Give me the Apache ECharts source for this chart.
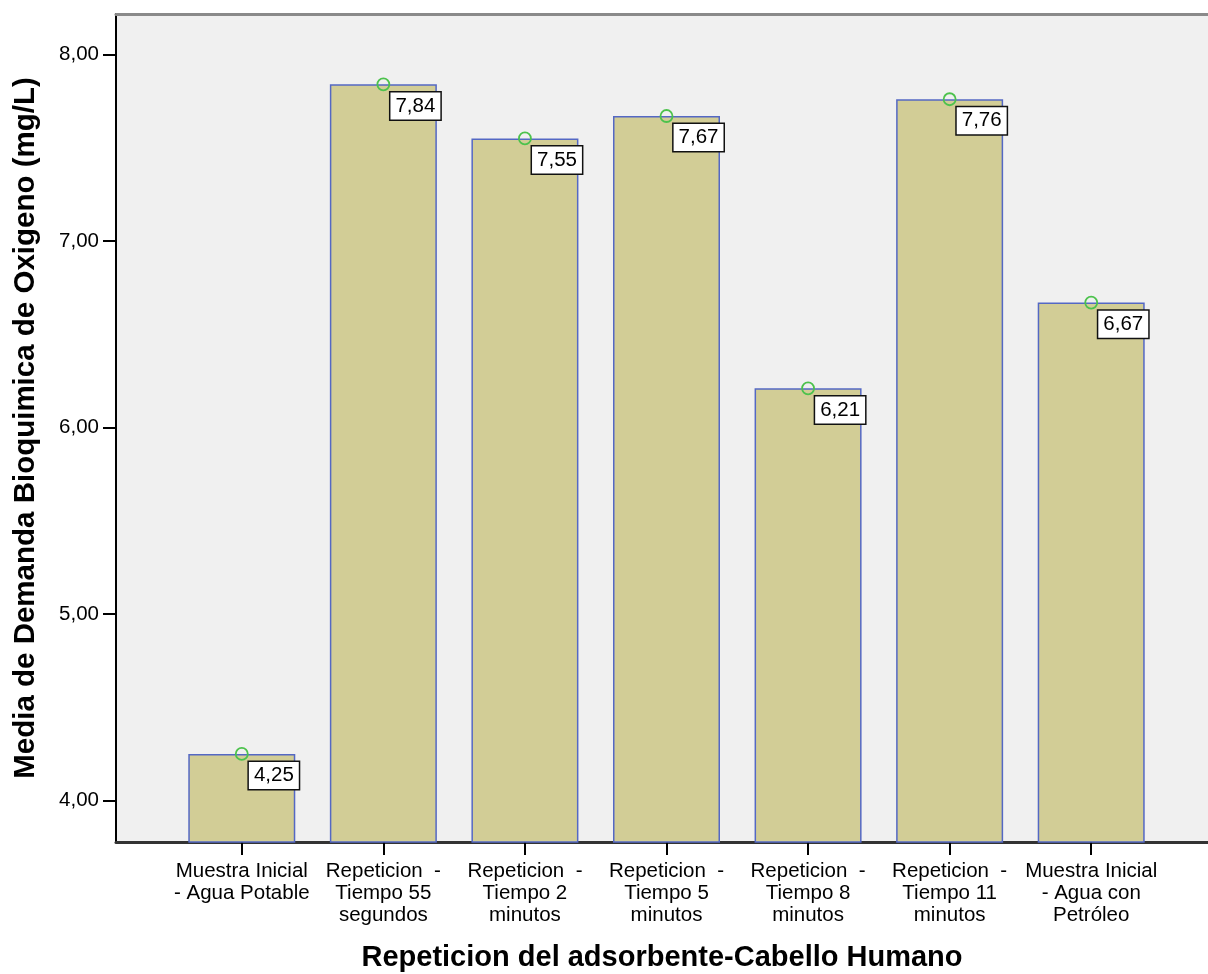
<!DOCTYPE html>
<html>
<head>
<meta charset="utf-8">
<script src="https://cdn.jsdelivr.net/npm/echarts@6/dist/echarts.min.js"></script>
<style>
  html, body { margin: 0; padding: 0; background: #fff; }
  #chart { width: 1208px; height: 974px; }
</style>
</head>
<body>
<div id="chart"></div>
<script>
// Mean BOD per sample / repetition
const categories = [
  'Muestra Inicial\n- Agua Potable',
  'Repeticion  -\nTiempo 55\nsegundos',
  'Repeticion  -\nTiempo 2\nminutos',
  'Repeticion  -\nTiempo 5\nminutos',
  'Repeticion  -\nTiempo 8\nminutos',
  'Repeticion  -\nTiempo 11\nminutos',
  'Muestra Inicial\n- Agua con\nPetróleo'
];
const meanValues = [4.25, 7.84, 7.55, 7.67, 6.21, 7.76, 6.67];
const yTicks = [4, 5, 6, 7, 8];
const yMin = 3.7775;
const yMax = 8.217;

const fmt = v => Number(v).toFixed(2).replace('.', ',');
const FONT = 'Liberation Sans, Arial, sans-serif';

const chart = echarts.init(document.getElementById('chart'), null, { renderer: 'canvas' });

chart.setOption({
  animation: false,
  backgroundColor: '#ffffff',
  grid: [
    // frame of the plot area
    { left: 116, right: 0, top: 14, bottom: 132, show: true, backgroundColor: '#f0f0f0', borderWidth: 0, outerBoundsMode: 'none', containLabel: false },
    // category band holding the bars
    { left: 171, right: 46, top: 14, bottom: 132, outerBoundsMode: 'none', containLabel: false }
  ],
  xAxis: [
    {
      gridIndex: 0, type: 'category', data: [''], position: 'bottom',
      axisLine: { show: true, lineStyle: { color: '#333', width: 3 } },
      axisTick: { show: false }, axisLabel: { show: false }, splitLine: { show: false },
      name: 'Repeticion del adsorbente-Cabello Humano',
      nameLocation: 'middle', nameGap: 116,
      nameTextStyle: { fontFamily: FONT, fontWeight: 'bold', fontSize: 29, color: '#000', verticalAlign: 'middle' }
    },
    {
      gridIndex: 0, type: 'category', data: [''], position: 'top',
      axisLine: { show: true, lineStyle: { color: '#8a8a8a', width: 3 } },
      axisTick: { show: false }, axisLabel: { show: false }, splitLine: { show: false }
    },
    {
      gridIndex: 1, type: 'category', data: categories, position: 'bottom',
      axisLine: { show: false },
      axisTick: { show: true, alignWithLabel: true, length: 13, lineStyle: { color: '#000', width: 2 } },
      axisLabel: {
        interval: 0, margin: 18, fontFamily: FONT, fontSize: 20.5, lineHeight: 22, color: '#000', align: 'center'
      },
      splitLine: { show: false }
    }
  ],
  yAxis: [
    {
      gridIndex: 0, type: 'value', min: yMin, max: yMax,
      axisLine: { show: true, lineStyle: { color: '#000', width: 2 } },
      axisTick: { show: true, length: 13, customValues: yTicks, lineStyle: { color: '#000', width: 2 } },
      axisLabel: { customValues: yTicks, formatter: fmt, margin: 17, fontFamily: FONT, fontSize: 20.5, color: '#000' },
      splitLine: { show: false },
      name: 'Media de Demanda Bioquimica de Oxigeno (mg/L)',
      nameLocation: 'middle', nameGap: 90, nameRotate: 90,
      nameTextStyle: { fontFamily: FONT, fontWeight: 'bold', fontSize: 29.5, color: '#000', verticalAlign: 'middle', align: 'center' }
    },
    {
      gridIndex: 1, type: 'value', min: yMin, max: yMax, show: false,
      splitLine: { show: false }
    }
  ],
  series: [
    {
      type: 'bar', xAxisIndex: 2, yAxisIndex: 1,
      data: meanValues, barWidth: 107,
      itemStyle: { color: '#d2cd96', borderColor: '#5468c4', borderWidth: 1.5 }
    },
    {
      type: 'scatter', xAxisIndex: 2, yAxisIndex: 1,
      data: meanValues, symbol: 'circle', symbolSize: 12,
      itemStyle: { color: 'rgba(0,0,0,0)', borderColor: '#4cc24c', borderWidth: 1.8, opacity: 1 },
      label: {
        show: true, position: [14, 15], formatter: p => fmt(p.value),
        fontFamily: FONT, fontSize: 20.5, lineHeight: 21, color: '#000',
        backgroundColor: '#ffffff', borderColor: '#111', borderWidth: 1.5, padding: [3, 5, 3, 5]
      },
      z: 5
    }
  ]
});
</script>
</body>
</html>
